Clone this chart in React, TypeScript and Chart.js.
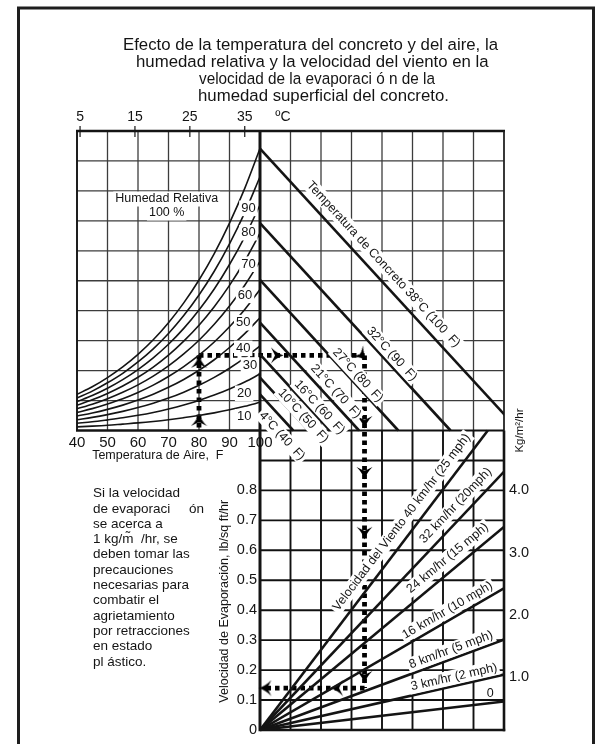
import { useEffect, useRef } from "react";
import { Chart, registerables } from "chart.js";

Chart.register(...registerables);

const W = 597;
const H = 744;

// ---------------- data ----------------
const titleLines = [
  "Efecto de la temperatura del concreto y del aire, la",
  "humedad relativa y la velocidad del viento en la",
  "velocidad de la evaporaci ó n de la",
  "humedad superficial del concreto.",
];
const noteLines = [
  "Si la velocidad",
  "de evaporaci     ón",
  "se acerca a",
  "1 kg/m\u0303  /hr, se",
  "deben tomar las",
  "precauciones",
  "necesarias para",
  "combatir el",
  "agrietamiento",
  "por retracciones",
  "en estado",
  "pl ástico.",
];

const airTempTicksF = [40, 50, 60, 70, 80, 90, 100];
const celsiusTicks = [5, 15, 25, 35];
const curveTempsF = [40, 45, 50, 55, 60, 65, 70, 75, 80, 85, 90, 95, 100];
const rhLevels = [100, 90, 80, 70, 60, 50, 40, 30, 20, 10];
// vapour pressure (in. Hg) of each relative-humidity curve at curveTempsF
const rh100 = [0.248, 0.3, 0.363, 0.436, 0.522, 0.622, 0.739, 0.875, 1.032, 1.213, 1.422, 1.66, 1.933];
const rh90 = [0.223, 0.27, 0.327, 0.392, 0.47, 0.56, 0.665, 0.788, 0.929, 1.092, 1.28, 1.494, 1.74];
const rh80 = [0.198, 0.24, 0.29, 0.349, 0.418, 0.498, 0.591, 0.7, 0.826, 0.97, 1.138, 1.328, 1.546];
const rh70 = [0.174, 0.21, 0.254, 0.305, 0.365, 0.435, 0.517, 0.613, 0.722, 0.849, 0.995, 1.162, 1.353];
const rh60 = [0.149, 0.18, 0.218, 0.262, 0.313, 0.373, 0.443, 0.525, 0.619, 0.728, 0.853, 0.996, 1.16];
const rh50 = [0.124, 0.15, 0.182, 0.218, 0.261, 0.311, 0.37, 0.438, 0.516, 0.607, 0.711, 0.83, 0.967];
const rh40 = [0.099, 0.12, 0.145, 0.174, 0.209, 0.249, 0.296, 0.35, 0.413, 0.485, 0.569, 0.664, 0.773];
const rh30 = [0.074, 0.09, 0.109, 0.131, 0.157, 0.187, 0.222, 0.263, 0.31, 0.364, 0.427, 0.498, 0.58];
const rh20 = [0.05, 0.06, 0.073, 0.087, 0.104, 0.124, 0.148, 0.175, 0.206, 0.243, 0.284, 0.332, 0.387];
const rh10 = [0.025, 0.03, 0.036, 0.044, 0.052, 0.062, 0.074, 0.088, 0.103, 0.121, 0.142, 0.166, 0.193];
const rhCurves = [rh100, rh90, rh80, rh70, rh60, rh50, rh40, rh30, rh20, rh10];
const rhLabelText = ["90", "80", "70", "60", "50", "40", "30", "20", "10"];
const rhLabelTempF = [96.2, 96.2, 96.2, 95.1, 94.5, 94.5, 96.7, 94.8, 94.8];
const rhLabelVapor = [1.523, 1.356, 1.14, 0.927, 0.739, 0.563, 0.449, 0.255, 0.094];

const concreteNames = [
  "Temperatura de Concreto 38°C (100  F)",
  "32°C (90  F)",
  "27°C (80  F)",
  "21°C (70  F)",
  "16°C (60  F)",
  "10°C (50  F)",
  "4°C (40  F)",
];
const concreteSurfaceVapor = [1.933, 1.422, 1.032, 0.739, 0.522, 0.363, 0.248];
const concreteLabelAt = [0.852, 0.937, 0.688, 0.514, 0.4, 0.29, 0.23];
const concreteLabelSide = [12.5, 8.5, 7.6, 9.4, 8, 6, -12];

const windNames = [
  "0",
  "3 km/hr (2 mph)",
  "8 km/hr (5 mph)",
  "16 km/hr (10 mph)",
  "24 km/hr (15 mph)",
  "32 km/hr (20mph)",
  "Velocidad del Viento 40 km/hr (25 mph)",
];
const windEndDelta = [1.82, 1.82, 1.82, 1.82, 1.82, 1.82, 1.7];
const windEndEvap = [0.095, 0.185, 0.302, 0.473, 0.678, 0.862, 1.0];
const windLabelAt = [1.727, 1.462, 1.448, 1.434, 1.457, 1.525, 1.134];
const windLabelSide = [10, 8.5, 8.7, 9.3, 12, 12, 13];

const evapTicks = [0, 0.1, 0.2, 0.3, 0.4, 0.5, 0.6, 0.7, 0.8];
const evapTickText = ["0", "0.1", "0.2", "0.3", "0.4", "0.5", "0.6", "0.7", "0.8"];
const kgTicks = [1, 2, 3, 4];
const kgTickText = ["1.0", "2.0", "3.0", "4.0"];

// worked example (dotted path)
const exampleAirF = 80;
const exampleVapor = 0.515;
const exampleDelta = 0.78;
const exampleEvap = 0.14;
const upArrowVapor = [0.072, 0.47];
const rightArrowDelta = [0.127];
const downArrowEvap = [1.028, 0.858, 0.658, 0.177];
const leftArrowDelta = [0.575, 0.04];

// ---------------- scale relations ----------------
const X_MIN_F = 40;
const X_MAX_F = 180;
const VP_PER_F = 0.02276; // in Hg difference per °F grid unit
const E_MAX = 2.0;
const E_PER_VP = 0.487; // evaporation units per in Hg (vertical)
const KG_SLOPE = 0.2083;
const KG_OFFSET = 0.033;

const airToDelta = (f: number) => (f - 100) * VP_PER_F;
const vaporToEvap = (p: number) => 1 + p * E_PER_VP;

const FONT = '"Liberation Sans", Arial, Helvetica, sans-serif';
const INK = "#141414";

function makeArrowHead(): HTMLCanvasElement {
  const c = document.createElement("canvas");
  c.width = 17;
  c.height = 14;
  const g = c.getContext("2d")!;
  g.fillStyle = "#000";
  g.beginPath();
  g.moveTo(8.5, 0.5);
  g.quadraticCurveTo(11, 8, 16.5, 13);
  g.lineTo(8.5, 9);
  g.lineTo(0.5, 13);
  g.quadraticCurveTo(6, 8, 8.5, 0.5);
  g.closePath();
  g.fill();
  return c;
}

function seg(ctx: CanvasRenderingContext2D, x1: number, y1: number, x2: number, y2: number, color: string, w: number) {
  ctx.beginPath();
  ctx.strokeStyle = color;
  ctx.lineWidth = w;
  ctx.moveTo(x1, y1);
  ctx.lineTo(x2, y2);
  ctx.stroke();
}

function label(
  ctx: CanvasRenderingContext2D,
  text: string,
  x: number,
  y: number,
  size: number,
  opts: { angle?: number; align?: CanvasTextAlign; bg?: boolean; maxWidth?: number } = {}
) {
  ctx.save();
  ctx.translate(x, y);
  if (opts.angle) ctx.rotate(opts.angle);
  ctx.font = `${size}px ${FONT}`;
  ctx.textAlign = opts.align || "center";
  ctx.textBaseline = "middle";
  if (opts.bg) {
    const w = ctx.measureText(text).width;
    const x0 = opts.align === "left" ? 0 : opts.align === "right" ? -w : -w / 2;
    ctx.fillStyle = "#fff";
    ctx.fillRect(x0 - 2, -size * 0.6, w + 4, size * 1.2);
  }
  ctx.fillStyle = INK;
  if (opts.maxWidth) ctx.fillText(text, 0, 0, opts.maxWidth);
  else ctx.fillText(text, 0, 0);
  ctx.restore();
}

const nomogram = {
  id: "nomogram",
  beforeDatasetsDraw(chart: any) {
    const ctx: CanvasRenderingContext2D = chart.ctx;
    const { xT, yE } = chart.scales;
    const { left, right, top, bottom } = chart.chartArea;
    const x100 = xT.getPixelForValue(100);
    const yMid = yE.getPixelForValue(1);
    ctx.save();
    ctx.lineCap = "butt";
    for (let v = X_MIN_F; v <= X_MAX_F; v += 10) {
      const px = xT.getPixelForValue(v);
      seg(ctx, px, top, px, yMid, "#3c3c3c", 1.3);
      if (v > 100) seg(ctx, px, yMid, px, bottom, "#111", 1.9);
    }
    for (let i = 1; i < 20; i++) {
      const py = yE.getPixelForValue(i / 10);
      if (i > 10) seg(ctx, left, py, right, py, "#3c3c3c", 1.3);
      if (i < 10) seg(ctx, x100, py, right, py, "#111", 1.9);
    }
    seg(ctx, left - 1, top, right + 1, top, INK, 2.6);
    seg(ctx, left, top, left, yMid, INK, 1.8);
    seg(ctx, right, top, right, yMid, "#222", 1.5);
    seg(ctx, x100, yMid, right, yMid, "#111", 1.9);
    seg(ctx, left - 1, yMid, x100, yMid, INK, 2.6);
    seg(ctx, right, yMid, right, bottom + 1.2, INK, 2.6);
    seg(ctx, x100, bottom, right + 1.2, bottom, INK, 2.6);
    seg(ctx, x100, top, x100, bottom + 1.2, INK, 3);
    celsiusTicks.forEach((c) => {
      const px = xT.getPixelForValue((c * 9) / 5 + 32);
      seg(ctx, px, top - 5, px, top + 6, INK, 1.2);
    });
    ctx.restore();
  },
  afterDatasetsDraw(chart: any) {
    const ctx: CanvasRenderingContext2D = chart.ctx;
    const { xT, xV, yE, yP, yK } = chart.scales;
    const { top, right } = chart.chartArea;
    const x100 = xT.getPixelForValue(100);
    const yMid = yE.getPixelForValue(1);
    ctx.save();

    rhLabelText.forEach((t, i) => {
      label(ctx, t, xT.getPixelForValue(rhLabelTempF[i]), yP.getPixelForValue(rhLabelVapor[i]), 13, { bg: true });
    });
    label(ctx, "Humedad Relativa", xT.getPixelForValue(69.4), yP.getPixelForValue(1.587), 12.5, { bg: true });
    label(ctx, "100 %", xT.getPixelForValue(69.4), yP.getPixelForValue(1.491), 12.5, { bg: true });

    concreteNames.forEach((name, i) => {
      const s = concreteSurfaceVapor[i];
      const x0 = xV.getPixelForValue(0), y0 = yP.getPixelForValue(s);
      const x1 = xV.getPixelForValue(s), y1 = yP.getPixelForValue(0);
      const th = Math.atan2(y1 - y0, x1 - x0);
      const a = concreteLabelAt[i];
      const px = xV.getPixelForValue(a), py = yP.getPixelForValue(s - a);
      const d = concreteLabelSide[i];
      label(ctx, name, px + d * Math.sin(th), py - d * Math.cos(th), 12.5, { angle: th, bg: true });
    });

    windNames.forEach((name, i) => {
      const x0 = xV.getPixelForValue(0), y0 = yE.getPixelForValue(0);
      const x1 = xV.getPixelForValue(windEndDelta[i]), y1 = yE.getPixelForValue(windEndEvap[i]);
      const th = Math.atan2(y1 - y0, x1 - x0);
      const a = windLabelAt[i];
      const px = xV.getPixelForValue(a);
      const py = yE.getPixelForValue((a * windEndEvap[i]) / windEndDelta[i]);
      const d = windLabelSide[i];
      label(ctx, name, px + d * Math.sin(th), py - d * Math.cos(th), 12.5, { angle: i === 0 ? 0 : th, bg: i !== 0 });
    });

    airTempTicksF.forEach((f) => label(ctx, String(f), xT.getPixelForValue(f), yMid + 12, 15));
    label(ctx, "Temperatura de Aire,  F", xT.getPixelForValue(66.5), yMid + 25, 12.5);
    celsiusTicks.forEach((c) => label(ctx, String(c), xT.getPixelForValue((c * 9) / 5 + 32), top - 14, 14));
    label(ctx, "ºC", xT.getPixelForValue(107.5), top - 14, 14);

    evapTicks.forEach((e, i) => label(ctx, evapTickText[i], x100 - 3, yE.getPixelForValue(e), 14.5, { align: "right" }));
    label(ctx, "Velocidad de Evaporación, lb/sq ft/hr", x100 - 35, yE.getPixelForValue(0.43), 12.5, { angle: -Math.PI / 2 });
    kgTicks.forEach((k, i) => label(ctx, kgTickText[i], right + 5, yK.getPixelForValue(k), 14.5, { align: "left" }));
    label(ctx, "Kg/m²/hr", right + 16, yE.getPixelForValue(1.0), 11.5, { angle: -Math.PI / 2 });

    const titleX = [123, 136, 199, 198];
    const titleMax = [0, 0, 236, 0];
    titleLines.forEach((t, i) =>
      label(ctx, t, titleX[i], 45 + i * 17, 16.8, { align: "left", maxWidth: titleMax[i] || undefined })
    );
    noteLines.forEach((t, i) => label(ctx, t, 93, 493.5 + i * 15.3, 13.5, { align: "left" }));

    ctx.strokeStyle = "#1e1e1e";
    ctx.lineWidth = 3;
    ctx.strokeRect(18.5, 8, 575, H + 20);
    ctx.restore();
  },
};

export default function App() {
  const ref = useRef<HTMLCanvasElement>(null);
  useEffect(() => {
    const canvas = ref.current!;
    const arrow = makeArrowHead();
    const lineDefaults = { pointRadius: 0, borderColor: INK, fill: false };

    const datasets: any[] = [];
    rhCurves.forEach((curve, i) => {
      datasets.push({
        ...lineDefaults,
        label: `RH ${rhLevels[i]}%`,
        xAxisID: "xT",
        yAxisID: "yP",
        borderWidth: 1.6,
        cubicInterpolationMode: "monotone",
        data: curveTempsF.map((f, j) => ({ x: f, y: curve[j] })),
      });
    });
    concreteSurfaceVapor.forEach((s, i) => {
      datasets.push({
        ...lineDefaults,
        label: concreteNames[i],
        xAxisID: "xV",
        yAxisID: "yP",
        borderWidth: 2.6,
        data: [{ x: 0, y: s }, { x: s, y: 0 }],
      });
    });
    windEndDelta.forEach((dx, i) => {
      datasets.push({
        ...lineDefaults,
        label: windNames[i],
        xAxisID: "xV",
        yAxisID: "yE",
        borderWidth: 2.6,
        data: [{ x: 0, y: 0 }, { x: dx, y: windEndEvap[i] }],
      });
    });
    const dotted = { ...lineDefaults, borderColor: "#000", borderWidth: 4.8, borderDash: [4.5, 4] };
    datasets.push({
      ...dotted,
      xAxisID: "xT",
      yAxisID: "yP",
      data: [{ x: exampleAirF, y: 0.02 }, { x: exampleAirF, y: exampleVapor }],
    });
    datasets.push({
      ...dotted,
      xAxisID: "xV",
      yAxisID: "yP",
      data: [{ x: airToDelta(exampleAirF), y: exampleVapor }, { x: exampleDelta, y: exampleVapor }],
    });
    datasets.push({
      ...dotted,
      xAxisID: "xV",
      yAxisID: "yE",
      data: [{ x: exampleDelta, y: vaporToEvap(exampleVapor) }, { x: exampleDelta, y: exampleEvap }],
    });
    datasets.push({
      ...dotted,
      xAxisID: "xV",
      yAxisID: "yE",
      data: [{ x: exampleDelta, y: exampleEvap }, { x: 0.02, y: exampleEvap }],
    });
    const arrowSet = { showLine: false, pointStyle: arrow, pointRadius: 6, borderWidth: 0 };
    datasets.push({
      ...arrowSet,
      xAxisID: "xT",
      yAxisID: "yP",
      rotation: 0,
      data: upArrowVapor.map((p) => ({ x: exampleAirF, y: p })),
    });
    datasets.push({
      ...arrowSet,
      xAxisID: "xV",
      yAxisID: "yP",
      rotation: [90, 135],
      data: [...rightArrowDelta.map((d) => ({ x: d, y: exampleVapor })), { x: exampleDelta - 0.02, y: exampleVapor }],
    });
    datasets.push({
      ...arrowSet,
      xAxisID: "xV",
      yAxisID: "yE",
      rotation: 180,
      data: downArrowEvap.map((e) => ({ x: exampleDelta, y: e })),
    });
    datasets.push({
      ...arrowSet,
      xAxisID: "xV",
      yAxisID: "yE",
      rotation: 270,
      data: leftArrowDelta.map((d) => ({ x: d, y: exampleEvap })),
    });

    const chart = new Chart(canvas, {
      type: "line",
      data: { datasets },
      options: {
        responsive: false,
        animation: false,
        devicePixelRatio: 1,
        events: [],
        layout: { padding: { left: 77, top: 131, right: W - 504, bottom: H - 730 } },
        plugins: { legend: { display: false }, tooltip: { enabled: false } },
        scales: {
          xT: { type: "linear", position: "bottom", min: X_MIN_F, max: X_MAX_F, display: false },
          xV: { type: "linear", position: "top", min: airToDelta(X_MIN_F), max: airToDelta(X_MAX_F), display: false },
          yE: { type: "linear", position: "left", min: 0, max: E_MAX, display: false },
          yP: { type: "linear", position: "left", min: -1 / E_PER_VP, max: (E_MAX - 1) / E_PER_VP, display: false },
          yK: {
            type: "linear",
            position: "right",
            min: KG_OFFSET / KG_SLOPE,
            max: (E_MAX + KG_OFFSET) / KG_SLOPE,
            display: false,
          },
        },
      } as any,
      plugins: [nomogram],
    });
    return () => chart.destroy();
  }, []);

  return (
    <div style={{ position: "absolute", left: 0, top: 0, width: W, height: H, background: "#fff", overflow: "hidden" }}>
      <canvas ref={ref} width={W} height={H} style={{ display: "block", width: W, height: H }} />
    </div>
  );
}
